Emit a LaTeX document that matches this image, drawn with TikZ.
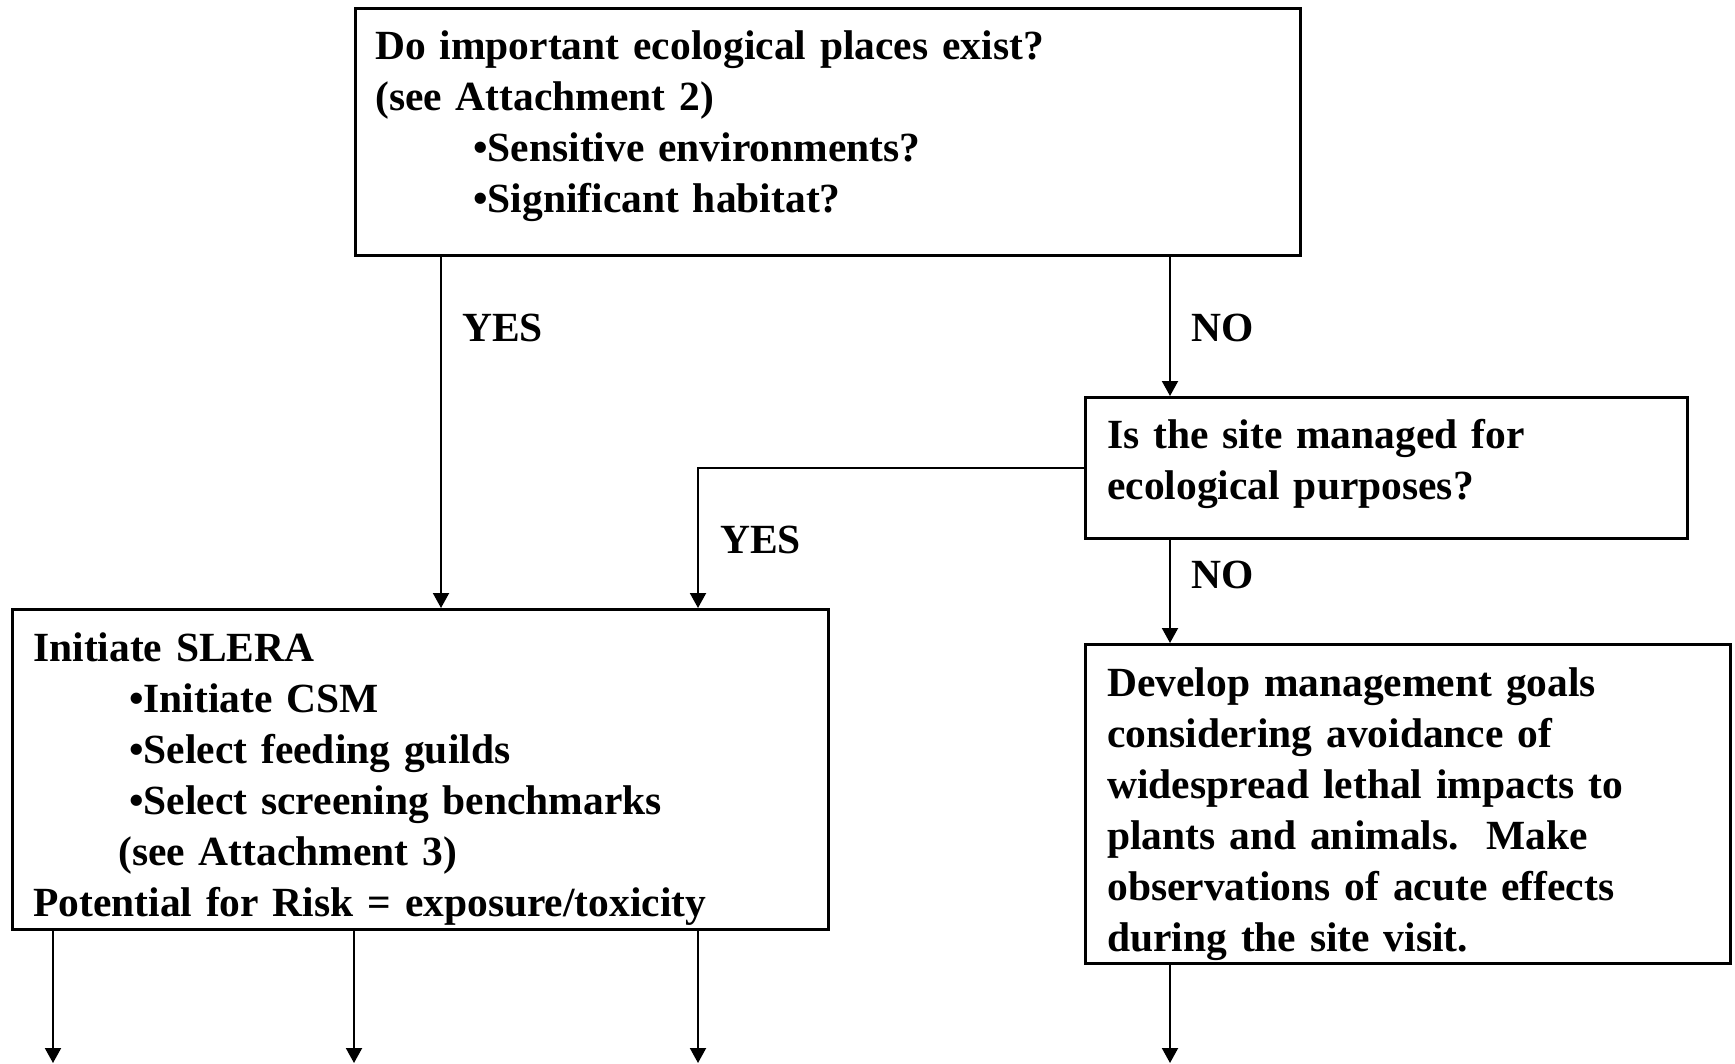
\documentclass[tikz,border=0pt]{standalone}
\usepackage{fontspec}
\setmainfont{Liberation Serif}
\usetikzlibrary{arrows.meta}

\begin{document}
\begin{tikzpicture}[x=1pt, y=-1pt,
    box/.style={draw, line width=2.5pt, anchor=north west, inner sep=0pt,
                align=left, font=\fontsize{41.5}{51}\selectfont\bfseries},
    answer/.style={anchor=base west, inner sep=0pt, font=\fontsize{41.5}{51}\selectfont\bfseries},
    flow/.style={line width=2pt, -{Triangle[length=15pt, width=16pt]}}]
              \useasboundingbox (0,0) rectangle (1735,1063);

              % Question boxes
              \node[box, inner xsep=20pt, text width=905pt, text height=51pt, text depth=196pt]
                (places) at (354,7) {Do important ecological places exist?\\
                (see Attachment 2)\\
                \hspace*{98pt}\textbullet Sensitive environments?\\
                \hspace*{98pt}\textbullet Significant habitat?};
              \node[box, inner xsep=22pt, text width=558pt, text height=51pt, text depth=90pt]
                (managed) at (1084,396) {Is the site managed for\\
                ecological purposes?};

              % Outcome boxes
              \node[box, inner xsep=21pt, text width=774pt, text height=52pt, text depth=268pt]
                (slera) at (11,608) {Initiate SLERA\\
                \hspace*{96pt}\textbullet Initiate CSM\\
                \hspace*{96pt}\textbullet Select feeding guilds\\
                \hspace*{96pt}\textbullet Select screening benchmarks\\
                \hspace*{85pt}(see Attachment 3)\\
                Potential for Risk = exposure/toxicity};
              \node[box, inner xsep=22pt, text width=601pt, text height=52pt, text depth=267pt]
                (goals) at (1084,643) {Develop management goals\\
                considering avoidance of\\
                widespread lethal impacts to\\
                plants and animals.\ \ Make\\
                observations of acute effects\\
                during the site visit.};

              % Columns of the arrows
              \coordinate (yesA) at (441,0);
              \coordinate (yesB) at (698,0);
              \coordinate (noA) at (1170,0);
              \coordinate (outA) at (53,1063);
              \coordinate (outB) at (354,1063);
              \coordinate (outC) at (698,1063);
              \coordinate (outD) at (1170,1063);

              % Answers
              \draw[flow] (places.south -| yesA) -- (slera.north -| yesA);
              \draw[flow] (places.south -| noA) -- (managed.north -| noA);
              \draw[flow] (managed.west) -| (slera.north -| yesB);
              \draw[flow] (managed.south -| noA) -- (goals.north -| noA);
              \node[answer] (yesone) at (462,341) {YES};
              \node[answer] (noone) at (1191,341) {NO};
              \node[answer] (yestwo) at (720,553) {YES};
              \node[answer] (notwo) at (1191,588) {NO};

              % Arrows leaving the page
              \draw[flow] (slera.south -| outA) -- (outA);
              \draw[flow] (slera.south -| outB) -- (outB);
              \draw[flow] (slera.south -| outC) -- (outC);
              \draw[flow] (goals.south -| outD) -- (outD);
            \end{tikzpicture}
\end{document}
